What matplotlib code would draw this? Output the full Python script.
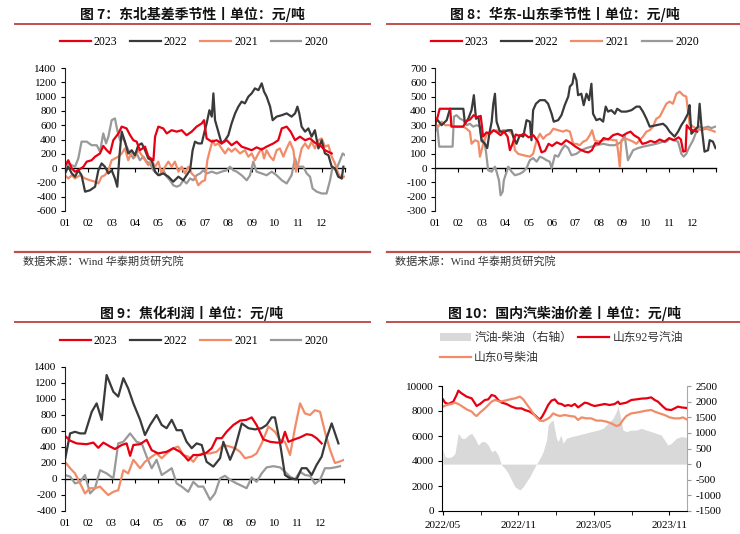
import numpy as np
import matplotlib
matplotlib.use('Agg')
import matplotlib.pyplot as plt
from matplotlib.lines import Line2D
from matplotlib.patches import Patch

plt.rcParams['axes.unicode_minus'] = False
plt.rcParams['font.family'] = ['Liberation Serif', 'Noto Sans CJK SC']

# ---- 图7 东北基差季节性 (x in months from Jan 1) ----
db_m23 = [0, 0.14, 0.29, 0.43, 0.57, 0.79, 0.93, 1.14, 1.29, 1.5, 1.64, 1.79, 1.93, 2.07, 2.29, 2.43, 2.64, 2.79, 2.93,
          3.07, 3.21, 3.43, 3.57, 3.79, 3.86, 4.0, 4.21, 4.36, 4.57, 4.79, 5.0, 5.21, 5.43, 5.64, 5.86, 5.96, 6.07, 6.29,
          6.5, 6.71, 6.93, 7.14, 7.36, 7.57, 7.79, 8.0, 8.21, 8.43, 8.64, 8.93, 9.14, 9.29, 9.5, 9.67, 9.86, 10.07, 10.29,
          10.5, 10.71, 10.93, 11.14, 11.43]
db_v23 = [30, 110, -5, -50, -30, 20, 90, 110, 160, 205, 310, 250, 205, 390, 485, 580, 555, 460, 390,
          370, 250, 300, 160, 110, 440, 580, 555, 485, 530, 510, 530, 460, 510, 580, 625, 670, 415, 370,
          390, 345, 390, 320, 370, 300, 275, 250, 290, 260, 300, 345, 390, 555, 580, 510, 390, 440, 390,
          415, 355, 320, 250, 205]
db_m22 = [0, 0.14, 0.29, 0.43, 0.57, 0.71, 0.86, 1.07, 1.29, 1.43, 1.57, 1.71, 1.86, 2.0, 2.14, 2.24, 2.33, 2.43, 2.57,
          2.71, 2.86, 3.0, 3.14, 3.29, 3.43, 3.57, 3.71, 3.86, 4.0, 4.21, 4.43, 4.64, 4.86, 5.07, 5.21, 5.36, 5.47, 5.57,
          5.71, 5.86, 5.96, 6.07, 6.19, 6.29, 6.36, 6.43, 6.57, 6.71, 6.86, 7.0, 7.14, 7.29, 7.43, 7.57, 7.71, 7.86, 8.0,
          8.14, 8.29, 8.43, 8.53, 8.64, 8.79, 8.9, 9.07, 9.29, 9.5, 9.71, 9.86, 9.96, 10.04, 10.14, 10.29, 10.43, 10.57,
          10.71, 10.86, 11.0, 11.14, 11.29, 11.43, 11.57, 11.71, 11.86, 11.93]
db_v22 = [-75, 20, -75, -120, -30, -100, -330, -310, -260, -30, 65, 20, -75, -30, -145, -260, 160, 510, 370,
          205, 250, 180, 320, 345, 250, 135, 110, -50, -100, -75, -120, -190, -120, -170, -100, -30, 250, 370,
          345, 345, 485, 625, 810, 720, 1045, 670, 510, 345, 390, 460, 625, 765, 860, 930, 905, 1000, 1045,
          1115, 1090, 1185, 1070, 1000, 860, 670, 720, 740, 765, 720, 765, 860, 765, 580, 510, 555, 440,
          530, 275, 390, 205, 180, 20, -5, -120, -145, 20]
db_m21 = [0, 0.14, 0.29, 0.43, 0.64, 0.86, 1.07, 1.29, 1.43, 1.57, 1.71, 1.86, 2.0, 2.14, 2.29, 2.43, 2.57, 2.71, 2.86,
          3.0, 3.14, 3.29, 3.43, 3.57, 3.71, 3.86, 4.0, 4.14, 4.29, 4.43, 4.57, 4.71, 4.86, 5.0, 5.14, 5.29, 5.43, 5.57,
          5.71, 5.86, 6.0, 6.1, 6.21, 6.33, 6.43, 6.57, 6.71, 6.86, 7.0, 7.14, 7.29, 7.5, 7.71, 7.86, 8.0, 8.14, 8.29,
          8.43, 8.53, 8.64, 8.79, 8.93, 9.07, 9.21, 9.36, 9.5, 9.64, 9.79, 9.9, 10.0, 10.14, 10.29, 10.43, 10.57, 10.71,
          10.86, 11.0, 11.14, 11.29, 11.43, 11.57, 11.71, 11.86, 11.96]
db_v21 = [-100, -145, -100, -145, -100, -145, -170, -190, -215, -120, -100, -30, 110, 135, 160, 205, 275, 110, 230,
          160, 250, 180, 110, 40, 110, 20, 90, -75, 20, 90, 20, 90, -50, 20, -75, 20, -75, -120,
          -240, -190, -170, 110, 250, 390, 320, 345, 275, 205, 275, 230, 275, 205, 250, 160, 205, 110, 205,
          275, 135, 250, 160, 110, 250, 275, 160, 275, 370, 250, -50, 65, 275, 345, 275, 370, 275,
          390, 415, 300, 320, 160, 65, -75, -145, -120]
db_m20 = [0, 0.14, 0.29, 0.43, 0.57, 0.71, 0.93, 1.14, 1.36, 1.5, 1.64, 1.76, 1.86, 2.0, 2.14, 2.24, 2.36, 2.5, 2.64,
          2.79, 2.93, 3.07, 3.21, 3.36, 3.5, 3.64, 3.79, 3.93, 4.07, 4.21, 4.36, 4.5, 4.64, 4.79, 4.93, 5.07, 5.21, 5.36,
          5.5, 5.64, 5.79, 5.93, 6.07, 6.29, 6.5, 6.71, 6.93, 7.07, 7.21, 7.36, 7.57, 7.79, 7.93, 8.07, 8.21, 8.43, 8.64,
          8.86, 9.07, 9.29, 9.5, 9.71, 9.86, 9.96, 10.07, 10.21, 10.36, 10.5, 10.61, 10.79, 11.0, 11.21, 11.36, 11.47,
          11.61, 11.79, 11.9, 12.0]
db_v20 = [-30, 65, 40, 20, 135, 370, 370, 320, 320, 230, 485, 345, 440, 670, 695, 530, 390, 415, 300,
          205, 135, 205, 110, 160, 90, 65, -30, -75, -100, -30, -120, -170, -240, -260, -240, -170, -215, -145,
          -170, -100, -75, -30, -75, -50, -75, -50, -30, 20, -30, -50, -100, -170, -100, 90, -50, -75, -100,
          -50, -100, -170, -215, -100, 135, 20, 20, 20, -75, -120, -285, -330, -355, -355, -170, 20,
          -30, 110, 205, 180]

# ---- 图8 华东-山东季节性 ----
hd_m23 = [0, 0.1, 0.2, 0.45, 0.65, 0.7, 0.9, 1.2, 1.35, 1.5, 1.65, 1.8, 1.95, 2.0, 2.05, 2.2, 2.35, 2.5, 2.65, 2.8,
          2.95, 3.1, 3.2, 3.3, 3.45, 3.6, 3.8, 4.0, 4.2, 4.4, 4.55, 4.7, 4.85, 5.0, 5.2, 5.4, 5.6, 5.8, 6.0, 6.2, 6.4,
          6.55, 6.7, 6.85, 7.0, 7.2, 7.4, 7.6, 7.8, 8.0, 8.2, 8.35, 8.5, 8.7, 8.85, 9.0, 9.2, 9.4, 9.6, 9.8, 10.0,
          10.2, 10.4, 10.5, 10.6, 10.7, 10.75, 10.9, 11.1, 11.2]
hd_v23 = [325, 350, 415, 415, 415, 290, 290, 290, 330, 340, 370, 355, 365, 300, 220, 250, 240, 265, 250, 230,
          255, 220, 125, 165, 235, 225, 240, 215, 230, 185, 110, 120, 170, 155, 180, 165, 195, 175, 150, 130, 115,
          110, 125, 175, 170, 210, 200, 230, 240, 225, 245, 255, 230, 210, 170, 175, 190, 180, 200, 185, 210,
          195, 215, 200, 115, 120, 300, 270, 260, 255]
hd_m22 = [0, 0.07, 0.28, 0.5, 0.64, 1.07, 1.21, 1.28, 1.42, 1.56, 1.66, 1.75, 1.85, 1.99, 2.13, 2.23, 2.32, 2.42, 2.49,
          2.56, 2.63, 2.77, 2.99, 3.13, 3.27, 3.34, 3.48, 3.62, 3.77, 3.91, 4.05, 4.12, 4.19, 4.31, 4.48, 4.69, 4.83,
          4.98, 5.07, 5.26, 5.4, 5.54, 5.69, 5.76, 5.87, 5.94, 6.04, 6.11, 6.25, 6.35, 6.47, 6.58, 6.68, 6.75, 6.89,
          7.04, 7.18, 7.29, 7.39, 7.53, 7.68, 7.78, 7.96, 8.17, 8.39, 8.6, 8.74, 8.88, 9.03, 9.17, 9.45, 9.74, 9.88,
          10.02, 10.23, 10.38, 10.52, 10.66, 10.8, 10.87, 10.95, 11.23, 11.3, 11.37, 11.51, 11.66, 11.73, 11.87, 11.98]
hd_v22 = [290, 345, 300, 335, 415, 415, 415, 310, 345, 405, 510, 345, 360, 195, 170, 140, 240, 325, 450,
          520, 325, 255, 255, 265, 265, 220, 170, 230, 220, 335, 325, 195, 405, 450, 475, 475, 450,
          380, 325, 335, 370, 440, 500, 570, 590, 660, 615, 510, 520, 440, 520, 475, 590, 380, 335,
          345, 325, 430, 395, 405, 380, 415, 395, 395, 405, 430, 430, 395, 345, 290, 300, 310, 290,
          255, 220, 255, 300, 335, 380, 440, 240, 290, 450, 310, 115, 125, 195, 185, 140]
hd_m21 = [0, 0.14, 0.28, 0.43, 0.64, 0.92, 1.21, 1.35, 1.49, 1.56, 1.71, 1.85, 1.92, 2.06, 2.2, 2.35, 2.63, 2.77, 2.91,
          3.06, 3.2, 3.34, 3.41, 3.55, 3.77, 4.05, 4.19, 4.34, 4.48, 4.62, 4.76, 4.9, 5.05, 5.26, 5.47, 5.61, 5.76, 5.9,
          6.04, 6.18, 6.33, 6.47, 6.61, 6.71, 6.82, 6.97, 7.18, 7.39, 7.6, 7.75, 7.82, 7.89, 7.96, 8.17, 8.32, 8.46,
          8.6, 8.74, 8.88, 9.03, 9.17, 9.31, 9.45, 9.6, 9.74, 9.88, 10.02, 10.16, 10.31, 10.45, 10.59, 10.73, 10.8,
          10.87, 11.02, 11.16, 11.37, 11.58, 11.8, 11.94]
hd_v21 = [310, 290, 325, 300, 300, 290, 290, 275, 255, 170, 195, 185, 80, 170, 230, 255, 265, 255, 265,
          265, 255, 230, 125, 100, 90, 80, 100, 195, 240, 205, 230, 240, 275, 265, 255, 265, 255, 170,
          170, 160, 185, 195, 230, 265, 195, 185, 195, 205, 195, 195, 115, 10, 195, 205, 195, 185,
          170, 195, 220, 255, 265, 290, 345, 360, 405, 450, 465, 450, 520, 535, 510, 500, 405,
          310, 290, 275, 265, 275, 265, 255]
hd_m20 = [0, 0.1, 0.18, 0.75, 0.81, 0.92, 1.07, 1.21, 1.35, 1.49, 1.63, 1.78, 1.92, 1.99, 2.09, 2.17, 2.27, 2.42, 2.56,
          2.63, 2.73, 2.8, 2.89, 2.94, 3.03, 3.13, 3.27, 3.41, 3.62, 3.77, 3.91, 4.05, 4.19, 4.34, 4.48, 4.62, 4.76, 4.9,
          4.98, 5.12, 5.26, 5.4, 5.54, 5.69, 5.83, 6.04, 6.25, 6.47, 6.68, 6.89, 7.18, 7.46, 7.68, 7.82, 7.96, 8.1,
          8.24, 8.46, 8.67, 8.88, 9.17, 9.45, 9.74, 9.88, 10.02, 10.23, 10.38, 10.52, 10.62, 10.73, 10.87, 11.02,
          11.16, 11.3, 11.44, 11.66, 11.8, 11.98]
hd_v20 = [255, 290, 150, 150, 360, 370, 345, 335, 300, 310, 290, 300, 290, 185, 195, 125, -15, -25, 10,
          -25, -85, -190, -165, -85, -40, 10, -25, -50, -40, -25, 0, 55, 70, 45, 80, 70, 55, 45,
          0, 90, 80, 125, 160, 140, 90, 100, 125, 140, 150, 160, 170, 160, 160, 170, 185, 230,
          55, 125, 140, 150, 160, 170, 185, 185, 205, 195, 185, 100, 80, 100, 150, 195,
          255, 290, 280, 290, 280, 290]

# ---- 图9 焦化利润 ----
jh_m23 = [0, 0.22, 0.5, 0.93, 1.22, 1.43, 1.65, 1.94, 2.15, 2.44, 2.65, 2.8, 2.94, 3.23, 3.51, 3.73, 4.01, 4.37, 4.66,
          4.95, 5.16, 5.3, 5.52, 5.81, 6.09, 6.31, 6.52, 6.74, 6.95, 7.24, 7.53, 7.81, 8.03, 8.24, 8.53, 8.82, 9.1,
          9.32, 9.46, 9.61, 9.82, 10.11, 10.39, 10.61, 10.82, 11.04]
jh_v23 = [540, 480, 445, 435, 455, 390, 455, 405, 375, 425, 445, 290, 425, 435, 490, 360, 320, 340, 385,
          340, 280, 230, 300, 300, 330, 385, 510, 510, 590, 675, 730, 740, 770, 675, 495, 465, 455,
          455, 590, 465, 490, 520, 560, 550, 510, 445]
jh_m22 = [0, 0.22, 0.43, 0.65, 0.86, 1.15, 1.36, 1.58, 1.79, 2.08, 2.29, 2.51, 2.72, 2.94, 3.23, 3.44, 3.66, 3.94, 4.16,
          4.37, 4.59, 4.8, 5.02, 5.23, 5.45, 5.66, 5.88, 6.09, 6.38, 6.67, 6.81, 7.1, 7.31, 7.6, 7.89, 8.17, 8.46,
          8.67, 8.89, 9.03, 9.25, 9.46, 9.68, 9.96, 10.18, 10.39, 10.61, 10.82, 11.04, 11.25, 11.47, 11.76]
jh_v22 = [240, 570, 590, 570, 570, 840, 945, 740, 1300, 1090, 1030, 1260, 1130, 945, 740, 550, 675, 800, 675,
          635, 740, 610, 610, 465, 385, 445, 425, 215, 155, 260, 465, 240, 385, 695, 635, 620, 635,
          675, 770, 770, 445, 50, 8, -5, 135, 135, 50, 175, 280, 510, 695, 445]
jh_m21 = [0, 0.22, 0.43, 0.65, 0.86, 1.08, 1.29, 1.51, 1.65, 1.86, 2.08, 2.29, 2.51, 2.72, 2.94, 3.23, 3.44, 3.73, 3.94,
          4.16, 4.37, 4.66, 4.87, 5.09, 5.3, 5.52, 5.73, 5.95, 6.24, 6.52, 6.81, 7.1, 7.31, 7.53, 7.74, 8.03, 8.24,
          8.46, 8.75, 9.03, 9.25, 9.46, 9.68, 9.89, 10.11, 10.32, 10.54, 10.75, 10.97, 11.18, 11.4, 11.61, 11.83, 12.0]
jh_v21 = [215, 135, 70, -55, -180, -115, -115, -95, -140, -200, -160, -140, 110, 70, 240, 135, 215, 280, 320,
          260, 320, 385, 405, 300, 280, 215, 300, 320, 320, 340, 425, 405, 385, 340, 260, 280, 320,
          445, 655, 590, 490, 465, 300, 635, 945, 820, 800, 860, 840, 590, 365, 200, 220, 240]
jh_m20 = [0, 0.22, 0.43, 0.65, 0.86, 1.08, 1.29, 1.51, 1.79, 2.08, 2.29, 2.51, 2.8, 3.08, 3.3, 3.51, 3.73, 3.94, 4.16,
          4.37, 4.59, 4.8, 5.02, 5.3, 5.52, 5.73, 5.95, 6.24, 6.45, 6.67, 6.88, 7.1, 7.38, 7.6, 7.81, 8.03, 8.24,
          8.46, 8.67, 8.96, 9.25, 9.46, 9.68, 9.89, 10.11, 10.32, 10.54, 10.75, 10.97, 11.18, 11.4, 11.61, 11.83]
jh_v20 = [50, 30, -55, -35, 50, -180, -115, 110, 70, 8, 445, 465, 570, 465, 445, 280, 135, 240, 50,
          90, 135, -55, -95, -160, -35, -95, -95, -260, -180, 8, 40, -10, -55, -85, -115, 20, -35,
          70, 145, 160, 145, 90, 30, -5, 90, 50, 40, -60, -10, 135, 135, 145, 160]

# ---- 图10 国内汽柴油价差 (x in months from 2022/05) ----
qc_m_gas = [0, 0.16, 0.42, 0.82, 1.08, 1.22, 1.48, 1.88, 2.28, 2.54, 2.67, 2.94, 3.33, 3.6, 3.86, 4.13, 4.39, 4.66,
            5.05, 5.45, 5.85, 6.24, 6.51, 6.9, 7.3, 7.57, 7.7, 7.88, 8.1, 8.36, 8.62, 8.89, 9.15, 9.42, 9.68, 9.95,
            10.21, 10.48, 10.74, 11.01, 11.27, 11.53, 11.8, 12.06, 12.46, 12.86, 13.25, 13.65, 13.92, 14.05, 14.31,
            14.58, 14.97, 15.37, 15.77, 16.16, 16.56, 16.83, 17.09, 17.49, 17.75, 18.15, 18.41, 18.68, 18.94, 19.37]
qc_gas = [8930, 8670, 8560, 8750, 9280, 9630, 9410, 9150, 9010, 8610, 8400, 8560, 8880, 8930, 9280, 9200, 8880, 8670,
          8560, 8350, 8210, 8210, 8080, 7950, 7680, 7410, 7330, 7550, 7950, 8480, 8830, 8930, 8610, 8560, 8400, 8480,
          8400, 8560, 8290, 8480, 8670, 8610, 8480, 8400, 8480, 8560, 8480, 8560, 8750, 8560, 8610,
          8670, 8880, 8930, 8990, 9010, 9090, 8880, 8750, 8350, 8130, 8080, 8210, 8350, 8290, 8240]
qc_m_dsl = [0, 0.29, 0.69, 0.95, 1.22, 1.48, 1.88, 2.28, 2.54, 2.67, 2.94, 3.33, 3.6, 3.86, 4.13, 4.52, 4.92, 5.32,
            5.71, 6.11, 6.38, 6.64, 6.9, 7.17, 7.43, 7.7, 7.96, 8.23, 8.49, 8.76, 9.02, 9.29, 9.68, 10.08, 10.48,
            10.74, 11.01, 11.4, 11.8, 12.2, 12.59, 12.99, 13.39, 13.78, 14.05, 14.31, 14.58, 14.97, 15.37, 15.77,
            16.16, 16.56, 16.83, 17.22, 17.62, 18.02, 18.41, 18.81, 19.07, 19.37]
qc_dsl = [8350, 8480, 8560, 8670, 8560, 8400, 8130, 7950, 7680, 7600, 7870, 8210, 8480, 8750, 8880, 8750, 8830, 8930,
          9010, 9150, 8930, 8560, 8210, 7810, 7490, 7230, 7200, 7330, 7490, 7810, 7680, 7600, 7680, 7600, 7550,
          7280, 7490, 7410, 7410, 7230, 7230, 7150, 7010, 6800, 6880, 7280, 7600, 7810, 7870, 7950,
          8030, 8080, 7950, 7810, 7680, 7490, 7410, 7410, 7490, 7330]
qc_m_diff = [0, 0.16, 0.42, 0.69, 0.95, 1.08, 1.22, 1.48, 1.75, 2.01, 2.28, 2.54, 2.8, 3.07, 3.33, 3.6, 3.86, 4.13,
             4.39, 4.66, 4.92, 5.19, 5.45, 5.71, 6.11, 6.38, 6.64, 6.9, 7.17, 7.43, 7.7, 7.96, 8.23, 8.36, 8.57, 8.76,
             8.89, 9.02, 9.15, 9.37, 9.55, 9.81, 10.21, 10.74, 11.27, 11.8, 12.33, 12.72, 13.12, 13.52, 13.78, 13.92,
             14.05, 14.31, 14.58, 14.97, 15.37, 15.77, 16.16, 16.56, 16.96, 17.35, 17.62, 17.88, 18.15, 18.55, 18.94,
             19.37]
qc_diff = [450, 235, 210, 235, 340, 660, 985, 825, 825, 930, 985, 825, 610, 720, 720, 610, 395, 450,
           290, -30, -135, -295, -510, -720, -830, -720, -560, -400, -190, 0, 180, 395, 770, 1250, 1360, 1410,
           1090, 825, 720, 930, 665, 825, 880, 930, 985, 1040, 1090, 1145, 1305, 1465, 1680, 1840,
           1625, 1090, 1040, 1090, 1090, 1145, 1090, 1040, 985, 930, 770, 610, 665, 825, 880,
           855]

months = ['01', '02', '03', '04', '05', '06', '07', '08', '09', '10', '11', '12']
years = ['2023', '2022', '2021', '2020']
year_colors = ['#E60012', '#3A3A3A', '#F28C68', '#999999']

W, H = 740, 534
fig = plt.figure(figsize=(W / 100, H / 100), dpi=100)
cjk = ['Noto Sans CJK SC', 'DejaVu Sans']
mixed = ['Liberation Serif', 'Noto Sans CJK SC']


def fx(px):
    return px / W


def fy(py):
    return 1 - py / H


def header(cx, cy, title, x0, x1, ly):
    fig.text(fx(cx), fy(cy), title, ha='center', va='center', fontsize=10, fontweight='bold',
             family=cjk, color='#111111')
    fig.add_artist(Line2D([fx(x0), fx(x1)], [fy(ly), fy(ly)], color='#C0504D', lw=1.4))


def footer(x0, x1, ly, tx):
    fig.add_artist(Line2D([fx(x0), fx(x1)], [fy(ly), fy(ly)], color='#C0504D', lw=1.6))
    fig.text(fx(tx), fy(ly + 9), '数据来源：Wind 华泰期货研究院', ha='left', va='center', fontsize=8,
             family=mixed, color='#333333')


def season_panel(rect, series, ylim, step, legend_c):
    ax = fig.add_axes(rect)
    handles = []
    for (xm, yv), name, col in list(zip(series, years, year_colors))[::-1]:
        h, = ax.plot(xm, yv, color=col, lw=1.6, label=name)
        handles.append(h)
    handles = handles[::-1]
    ax.set_xlim(0, 12)
    ax.set_ylim(*ylim)
    ax.set_yticks(np.arange(ylim[0], ylim[1] + 1, step))
    ax.set_xticks(range(12))
    ax.set_xticklabels(months)
    ax.tick_params(axis='x', length=0, pad=6, labelsize=8)
    ax.tick_params(axis='y', direction='out', length=3, pad=3, labelsize=8, width=0.8)
    for s in ['top', 'right', 'bottom']:
        ax.spines[s].set_visible(False)
    ax.spines['left'].set_color('#222222')
    zero = -ylim[0] / (ylim[1] - ylim[0])
    sec = ax.secondary_xaxis(zero)
    sec.set_xticks(range(13))
    sec.tick_params(length=3, labelbottom=False, labeltop=False, width=0.8)
    for s in sec.spines.values():
        s.set_color('black')
        s.set_linewidth(1.0)
    ax.legend(handles=handles, loc='center', bbox_to_anchor=(fx(legend_c[0]), fy(legend_c[1])),
              bbox_transform=fig.transFigure, ncol=4, frameon=False, fontsize=8.5,
              handlelength=2.6, handletextpad=0.25, columnspacing=1.1)
    return ax


# 图7
header(192, 14, '图 7：东北基差季节性丨单位：元/吨', 15, 370, 24)
season_panel([fx(65), fy(211), fx(345) - fx(65), fy(68) - fy(211)],
             [(db_m23, db_v23), (db_m22, db_v22), (db_m21, db_v21), (db_m20, db_v20)],
             (-600, 1400), 200, (194, 42))
footer(15, 370, 252, 23)

# 图8
header(565, 14, '图 8：华东-山东季节性丨单位：元/吨', 387, 740, 24)
season_panel([fx(435), fy(211), fx(716) - fx(435), fy(68) - fy(211)],
             [(hd_m23, hd_v23), (hd_m22, hd_v22), (hd_m21, hd_v21), (hd_m20, hd_v20)],
             (-300, 700), 100, (565, 42))
footer(387, 740, 252, 395)

# 图9
header(192, 313, '图 9：焦化利润丨单位：元/吨', 15, 370, 322)
season_panel([fx(65), fy(511), fx(344) - fx(65), fy(367) - fy(511)],
             [(jh_m23, jh_v23), (jh_m22, jh_v22), (jh_m21, jh_v21), (jh_m20, jh_v20)],
             (-400, 1400), 200, (194, 341))

# 图10
header(565, 313, '图 10：国内汽柴油价差丨单位：元/吨', 387, 740, 322)
ax = fig.add_axes([fx(442), fy(511), fx(687) - fx(442), fy(386) - fy(511)])
ax2 = ax.twinx()
ax2.fill_between(qc_m_diff, 0, qc_diff, color='#D9D9D9', lw=0)
ax2.set_ylim(-1500, 2500)
ax2.set_yticks(np.arange(-1500, 2501, 500))
ax2.tick_params(axis='y', direction='out', length=3, pad=3, labelsize=8, color='#999999')
l_gas, = ax.plot(qc_m_gas, qc_gas, color='#E60012', lw=1.6)
l_dsl, = ax.plot(qc_m_dsl, qc_dsl, color='#F28C68', lw=1.6)
ax.set_zorder(ax2.get_zorder() + 1)
ax.patch.set_visible(False)
ax.set_ylim(0, 10000)
ax.set_yticks(np.arange(0, 10001, 2000))
ax.set_xlim(-0.08, 19.4)
ax.set_xticks([0, 6, 12, 18])
ax.set_xticklabels(['2022/05', '2022/11', '2023/05', '2023/11'])
ax.set_xticks([3, 9, 15], minor=True)
ax.tick_params(axis='x', which='both', direction='out', length=3, pad=4, labelsize=8)
ax.tick_params(axis='y', direction='out', length=3, pad=3, labelsize=8)
for a in (ax, ax2):
    a.spines['top'].set_visible(False)
ax.spines['right'].set_visible(False)
ax2.spines['left'].set_visible(False)
ax2.spines['bottom'].set_visible(False)
ax2.spines['right'].set_color('#AAAAAA')
leg_handles = [Patch(facecolor='#D9D9D9', edgecolor='none'), l_dsl, l_gas]
leg_labels = ['汽油-柴油（右轴）', '山东0号柴油', '山东92号汽油']
leg = ax.legend(leg_handles, leg_labels, loc='upper left', bbox_to_anchor=(fx(440), fy(332)),
                bbox_transform=fig.transFigure, ncol=2, frameon=False, borderpad=0, borderaxespad=0,
                prop={'family': mixed, 'size': 8.5}, handlelength=2.6, handletextpad=0.3,
                columnspacing=0.5, labelspacing=0.7)
for t in leg.get_texts():
    t.set_color('#333333')

fig.savefig('out.png', dpi=100)
